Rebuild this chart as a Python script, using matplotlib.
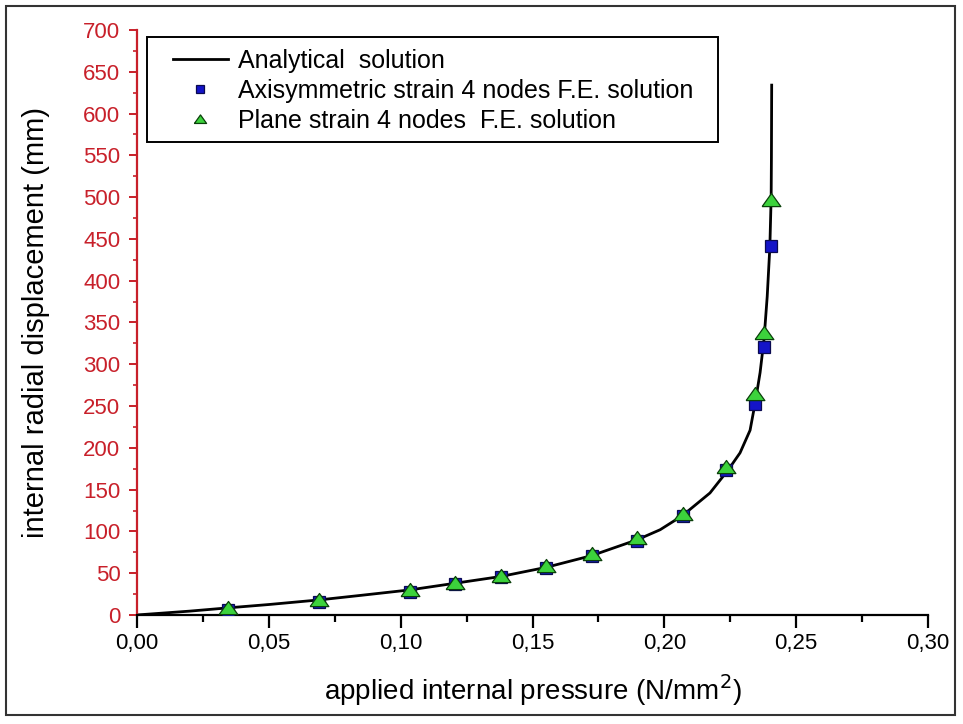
import matplotlib.pyplot as plt
from matplotlib.patches import Rectangle
from matplotlib.ticker import MultipleLocator, FuncFormatter

plt.rcParams['font.family'] = ['Liberation Sans', 'DejaVu Sans']

# analytical curve
curve_p = [0.0, 0.010, 0.020, 0.0345, 0.050, 0.069, 0.085, 0.1035, 0.1207,
           0.1379, 0.1552, 0.1724, 0.1897, 0.1984, 0.2069, 0.2173, 0.2243,
           0.2287, 0.2325, 0.2345, 0.2363, 0.2378, 0.2390, 0.2400, 0.2405,
           0.2406, 0.2407]
curve_u = [0, 2.3, 4.6, 8.5, 12.5, 18, 23.5, 30, 38, 46, 57, 71, 90, 102,
           119, 146, 174, 194, 221, 255, 290, 330, 381, 440, 500, 548, 634]

# axisymmetric F.E. (squares)
axi_p = [0.0345, 0.069, 0.1035, 0.1207, 0.1379, 0.1552, 0.1724, 0.1897,
         0.2069, 0.2233, 0.2342, 0.2378, 0.2406]
axi_u = [6.5, 16, 28, 36.5, 45, 56, 70, 89, 118, 173, 252, 321, 441]

# plane strain F.E. (triangles)
pl_p = [0.0345, 0.069, 0.1035, 0.1207, 0.1379, 0.1552, 0.1724, 0.1897,
        0.2069, 0.2233, 0.2342, 0.2378, 0.2405]
pl_u = [8, 18, 30, 38.5, 47, 58, 72.5, 92, 120.5, 177, 265, 337, 496]

red = '#c8202a'
tri = [(-1, -0.65), (1, -0.65), (0, 0.75), (-1, -0.65)]

fig = plt.figure(figsize=(9.63, 7.24), dpi=100)
ax = fig.add_axes([0.1423, 0.1506, 0.8214, 0.808])

ax.plot(curve_p, curve_u, color='black', lw=2.0, label='Analytical  solution', zorder=2)
ax.plot(axi_p, axi_u, ls='none', marker='s', ms=8.5, mfc='#1414c8', mec='#0a0a50',
        mew=0.9, label='Axisymmetric strain 4 nodes F.E. solution', zorder=3)
ax.plot(pl_p, pl_u, ls='none', marker=tri, ms=13.5, mfc='#3cd23c', mec='#0a400a',
        mew=0.9, label='Plane strain 4 nodes  F.E. solution', zorder=4)

ax.set_xlim(0, 0.30)
ax.set_ylim(0, 700)
ax.xaxis.set_major_locator(MultipleLocator(0.05))
ax.xaxis.set_minor_locator(MultipleLocator(0.025))
ax.yaxis.set_major_locator(MultipleLocator(50))
ax.yaxis.set_minor_locator(MultipleLocator(25))
ax.xaxis.set_major_formatter(FuncFormatter(lambda v, p: f'{v:.2f}'.replace('.', ',')))

for s in ['top', 'right']:
    ax.spines[s].set_visible(False)
ax.spines['bottom'].set_linewidth(1.6)
ax.spines['left'].set_linewidth(1.6)
ax.spines['left'].set_color(red)

ax.tick_params(axis='x', which='major', direction='out', length=9, width=1.6, pad=4,
               labelsize=16)
ax.tick_params(axis='x', which='minor', direction='out', length=5, width=1.6)
ax.tick_params(axis='y', which='major', direction='out', length=6, width=1.4, pad=6,
               labelsize=16, color=red, labelcolor=red)
ax.tick_params(axis='y', which='minor', direction='out', length=3, width=1.2, color=red)

ax.set_xlabel('applied internal pressure (N/mm$^2$)', fontsize=20, labelpad=13)
ax.set_ylabel('internal radial displacement (mm)', fontsize=21, labelpad=24)

# legend text without its own frame, box drawn separately
leg = ax.legend(loc='upper left', bbox_to_anchor=(0.045, 0.968), fontsize=18,
                frameon=False, markerscale=0.65, handlelength=2.2,
                handletextpad=0.4, labelspacing=0.25, borderpad=0,
                borderaxespad=0)
ax.add_patch(Rectangle((0.0126, 0.8085), 0.722, 0.1795, transform=ax.transAxes,
                       fill=False, edgecolor='black', lw=1.4, zorder=5))

fig.patches.append(Rectangle((0.006, 0.012), 0.986, 0.98, transform=fig.transFigure,
                             fill=False, edgecolor='#333333', lw=1.5))

fig.savefig('out.png', dpi=100)
